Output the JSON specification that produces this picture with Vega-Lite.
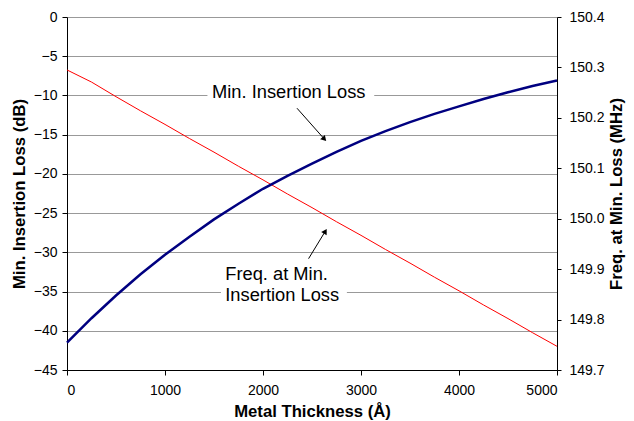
{
  "$schema": "https://vega.github.io/schema/vega-lite/v6.json",
  "width": 490,
  "height": 353,
  "autosize": {"type": "none"},
  "padding": {"left": 67, "top": 17, "right": 77, "bottom": 51},
  "background": "white",
  "config": {
    "view": {"stroke": null},
    "font": "Liberation Sans",
    "axis": {
      "labelFont": "Liberation Sans",
      "labelFontSize": 14,
      "labelColor": "black",
      "labelOverlap": false,
      "titleFont": "Liberation Sans",
      "titleFontSize": 16.7,
      "titleFontWeight": "bold",
      "titleColor": "black",
      "domainColor": "black",
      "domainWidth": 1,
      "tickColor": "black",
      "gridColor": "#999999",
      "gridWidth": 1
    }
  },
  "datasets": {
    "curves": [
      {"thickness": 0, "loss": -41.5, "freq": 150.295},
      {"thickness": 250, "loss": -38.4, "freq": 150.271},
      {"thickness": 500, "loss": -35.5, "freq": 150.242},
      {"thickness": 750, "loss": -32.8, "freq": 150.214},
      {"thickness": 1000, "loss": -30.3, "freq": 150.187},
      {"thickness": 1250, "loss": -28.0, "freq": 150.159},
      {"thickness": 1500, "loss": -25.8, "freq": 150.132},
      {"thickness": 1750, "loss": -23.8, "freq": 150.104},
      {"thickness": 2000, "loss": -21.9, "freq": 150.077},
      {"thickness": 2250, "loss": -20.25, "freq": 150.049},
      {"thickness": 2500, "loss": -18.7, "freq": 150.022},
      {"thickness": 2750, "loss": -17.2, "freq": 149.994},
      {"thickness": 3000, "loss": -15.8, "freq": 149.967},
      {"thickness": 3250, "loss": -14.55, "freq": 149.939},
      {"thickness": 3500, "loss": -13.4, "freq": 149.912},
      {"thickness": 3750, "loss": -12.35, "freq": 149.884},
      {"thickness": 4000, "loss": -11.4, "freq": 149.857},
      {"thickness": 4250, "loss": -10.45, "freq": 149.829},
      {"thickness": 4500, "loss": -9.6, "freq": 149.802},
      {"thickness": 4750, "loss": -8.8, "freq": 149.774},
      {"thickness": 5000, "loss": -8.1, "freq": 149.747}
    ],
    "notes": [
      {"text": "Min. Insertion Loss", "x": 1480, "y": -9.65},
      {"text": "Freq. at Min.", "x": 1615, "y": -32.86},
      {"text": "Insertion Loss", "x": 1615, "y": -35.51}
    ],
    "boxes": [
      {"x": 1433, "x2": 3135, "y": -8.6, "y2": -10.8},
      {"x": 1571, "x2": 2856, "y": -33.6, "y2": -36.4}
    ],
    "arrows": [
      {"id": "a1", "x": 2347, "y": -11.63, "x2": 2626, "y2": -15.56},
      {"id": "a2", "x": 2465, "y": -30.81, "x2": 2636, "y2": -27.31}
    ]
  },
  "layer": [
    {
      "data": {"name": "curves"},
      "mark": {"type": "line", "color": "#ff0000", "strokeWidth": 1},
      "encoding": {
        "x": {"field": "thickness", "type": "quantitative", "title": "Metal Thickness (Å)",
              "scale": {"domain": [0, 5000], "nice": false},
              "axis": {"values": [0, 1000, 2000, 3000, 4000, 5000], "format": "d", "grid": false, "tickSize": 5, "labelPadding": 8, "titlePadding": 6}},
        "y": {"field": "freq", "type": "quantitative", "title": "Freq. at Min. Loss (MHz)",
              "scale": {"domain": [149.7, 150.4], "nice": false, "zero": false},
              "axis": {"orient": "right", "values": [149.7, 149.8, 149.9, 150.0, 150.1, 150.2, 150.3, 150.4], "format": ".1f", "grid": false, "tickSize": 4, "labelPadding": 8, "titlePadding": 4, "titleAngle": 270, "titleBaseline": "top"}}
      }
    },
    {
      "layer": [
        {
          "data": {"name": "boxes"},
          "mark": {"type": "rect", "color": "white"},
          "encoding": {
            "x": {"field": "x", "type": "quantitative", "title": "Metal Thickness (Å)", "scale": {"domain": [0, 5000], "nice": false},
                  "axis": {"values": [0, 1000, 2000, 3000, 4000, 5000], "format": "d", "grid": false, "tickSize": 5, "labelPadding": 8, "titlePadding": 6}},
            "x2": {"field": "x2"},
            "y": {"field": "y", "type": "quantitative", "title": "Min. Insertion Loss (dB)", "scale": {"domain": [-45, 0], "nice": false},
                  "axis": {"orient": "left", "values": [-45, -40, -35, -30, -25, -20, -15, -10, -5, 0], "format": "d", "grid": true, "tickSize": 5, "labelPadding": 5, "titlePadding": 5}},
            "y2": {"field": "y2"}
          }
        },
        {
          "data": {"name": "curves"},
          "mark": {"type": "line", "color": "#000080", "strokeWidth": 2.5},
          "encoding": {
            "x": {"field": "thickness", "type": "quantitative", "title": "Metal Thickness (Å)", "scale": {"domain": [0, 5000], "nice": false},
                  "axis": {"values": [0, 1000, 2000, 3000, 4000, 5000], "format": "d", "grid": false, "tickSize": 5, "labelPadding": 8, "titlePadding": 6}},
            "y": {"field": "loss", "type": "quantitative", "title": "Min. Insertion Loss (dB)",
                  "scale": {"domain": [-45, 0], "nice": false},
                  "axis": {"orient": "left", "values": [-45, -40, -35, -30, -25, -20, -15, -10, -5, 0], "format": "d", "grid": true, "tickSize": 5, "labelPadding": 5, "titlePadding": 5}}
          }
        },
        {
          "data": {"name": "arrows"},
          "mark": {"type": "rule", "color": "black", "strokeWidth": 1},
          "encoding": {
            "x": {"field": "x", "type": "quantitative", "title": "Metal Thickness (Å)", "scale": {"domain": [0, 5000], "nice": false},
                  "axis": {"values": [0, 1000, 2000, 3000, 4000, 5000], "format": "d", "grid": false, "tickSize": 5, "labelPadding": 8, "titlePadding": 6}},
            "x2": {"field": "x2"},
            "y": {"field": "y", "type": "quantitative", "title": "Min. Insertion Loss (dB)", "scale": {"domain": [-45, 0], "nice": false},
                  "axis": {"orient": "left", "values": [-45, -40, -35, -30, -25, -20, -15, -10, -5, 0], "format": "d", "grid": true, "tickSize": 5, "labelPadding": 5, "titlePadding": 5}},
            "y2": {"field": "y2"}
          }
        },
        {
          "data": {"name": "arrows"},
          "transform": [{"filter": "datum.id === 'a1'"}],
          "mark": {"type": "point", "shape": "triangle-up", "filled": true, "color": "black", "size": 40, "angle": 138, "opacity": 1},
          "encoding": {
            "x": {"field": "x2", "type": "quantitative", "title": "Metal Thickness (Å)", "scale": {"domain": [0, 5000], "nice": false},
                  "axis": {"values": [0, 1000, 2000, 3000, 4000, 5000], "format": "d", "grid": false, "tickSize": 5, "labelPadding": 8, "titlePadding": 6}},
            "y": {"field": "y2", "type": "quantitative", "title": "Min. Insertion Loss (dB)", "scale": {"domain": [-45, 0], "nice": false},
                  "axis": {"orient": "left", "values": [-45, -40, -35, -30, -25, -20, -15, -10, -5, 0], "format": "d", "grid": true, "tickSize": 5, "labelPadding": 5, "titlePadding": 5}}
          }
        },
        {
          "data": {"name": "arrows"},
          "transform": [{"filter": "datum.id === 'a2'"}],
          "mark": {"type": "point", "shape": "triangle-up", "filled": true, "color": "black", "size": 40, "angle": 31, "opacity": 1},
          "encoding": {
            "x": {"field": "x2", "type": "quantitative", "title": "Metal Thickness (Å)", "scale": {"domain": [0, 5000], "nice": false},
                  "axis": {"values": [0, 1000, 2000, 3000, 4000, 5000], "format": "d", "grid": false, "tickSize": 5, "labelPadding": 8, "titlePadding": 6}},
            "y": {"field": "y2", "type": "quantitative", "title": "Min. Insertion Loss (dB)", "scale": {"domain": [-45, 0], "nice": false},
                  "axis": {"orient": "left", "values": [-45, -40, -35, -30, -25, -20, -15, -10, -5, 0], "format": "d", "grid": true, "tickSize": 5, "labelPadding": 5, "titlePadding": 5}}
          }
        },
        {
          "data": {"name": "notes"},
          "mark": {"type": "text", "align": "left", "baseline": "middle", "font": "Liberation Sans", "fontSize": 18.3, "color": "black"},
          "encoding": {
            "x": {"field": "x", "type": "quantitative", "title": "Metal Thickness (Å)", "scale": {"domain": [0, 5000], "nice": false},
                  "axis": {"values": [0, 1000, 2000, 3000, 4000, 5000], "format": "d", "grid": false, "tickSize": 5, "labelPadding": 8, "titlePadding": 6}},
            "y": {"field": "y", "type": "quantitative", "title": "Min. Insertion Loss (dB)", "scale": {"domain": [-45, 0], "nice": false},
                  "axis": {"orient": "left", "values": [-45, -40, -35, -30, -25, -20, -15, -10, -5, 0], "format": "d", "grid": true, "tickSize": 5, "labelPadding": 5, "titlePadding": 5}},
            "text": {"field": "text"}
          }
        }
      ]
    }
  ],
  "resolve": {"scale": {"y": "independent"}}
}
